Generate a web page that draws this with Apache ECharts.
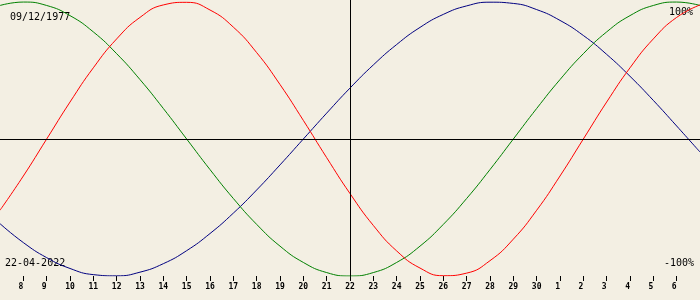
<!DOCTYPE html>
<html><head><meta charset="utf-8">
<script src="https://cdn.jsdelivr.net/npm/echarts@6/dist/echarts.min.js"></script>
<style>html,body{margin:0;padding:0;background:#F3EFE3}#c{width:700px;height:300px}</style>
</head><body><div id="c"></div>
<script>
// Day-of-month tick labels (7 Apr .. 7 May 2022)
const days = ["7","8","9","10","11","12","13","14","15","16","17","18","19","20","21","22","23","24","25","26","27","28","29","30","1","2","3","4","5","6","7"];
// Physical (red), %
const physical = [-52.0,-27.0,0,27.0,52.0,73.1,88.8,97.9,99.8,94.2,81.7,63.1,39.8,13.6,-13.6,-39.8,-63.1,-81.7,-94.2,-99.8,-97.9,-88.8,-73.1,-52.0,-27.0,0,27.0,52.0,73.1,88.8,97.9];
// Emotional (green), %
const emotional = [97.5,100,97.5,90.1,78.2,62.3,43.4,22.3,0,-22.3,-43.4,-62.3,-78.2,-90.1,-97.5,-100,-97.5,-90.1,-78.2,-62.3,-43.4,-22.3,0,22.3,43.4,62.3,78.2,90.1,97.5,100,97.5];
// Intellectual (blue), %
const intellectual = [-61.8,-75.6,-86.6,-94.5,-99.0,-99.9,-97.2,-91.0,-81.5,-69.0,-54.1,-37.2,-18.9,0,18.9,37.2,54.1,69.0,81.5,91.0,97.2,99.9,99.0,94.5,86.6,75.6,61.8,45.8,28.2,9.5,-9.5];
const birthDate = "09/12/1977";
const currentDate = "22-04-2022";
const currentIndex = 15;

const chart = echarts.init(document.getElementById('c'));
const lastIdx = days.length - 1;
const mono = '"DejaVu Sans Mono", monospace';
function line(name, data, color, extra) {
  return Object.assign({
    name, type: 'line', data, symbol: 'none', smooth: 0.5, silent: true,
    lineStyle: { color, width: 1 }, z: 3
  }, extra || {});
}
chart.setOption({
  backgroundColor: '#F3EFE3',
  animation: false,
  grid: { left: 0, right: 0, top: 0, bottom: 24 },
  xAxis: {
    type: 'category', data: days, boundaryGap: false,
    axisLine: { show: false, onZero: false },
    axisTick: { show: true, length: 5, lineStyle: { color: '#000', width: 1 },
      interval: (i) => i > 0 && i < lastIdx },
    axisLabel: { color: '#000', fontFamily: mono, fontSize: 8, fontWeight: 'bold', margin: 7,
      interval: (i) => i > 0 && i < lastIdx,
      formatter: (v) => String(v).padEnd(2, ' ') },
    splitLine: { show: false }
  },
  yAxis: { type: 'value', min: -100, max: 101.5, show: false, splitLine: { show: false } },
  graphic: [
    { type: 'text', left: 10, top: 12, style: { text: birthDate, fill: '#000', font: '10px ' + mono } },
    { type: 'text', left: 5, top: 258, style: { text: currentDate, fill: '#000', font: '10px ' + mono } },
    { type: 'text', right: 7, top: 7, style: { text: '100%', fill: '#000', font: '10px ' + mono } },
    { type: 'text', right: 6, top: 258, style: { text: '-100%', fill: '#000', font: '10px ' + mono } }
  ],
  series: [
    line('Intellectual', intellectual, '#000080', {
      markLine: { silent: true, symbol: 'none', label: { show: false },
        lineStyle: { color: '#000', width: 1, type: 'solid' },
        data: [{ xAxis: currentIndex }, { yAxis: 0 }] }
    }),
    line('Emotional', emotional, '#008000'),
    line('Physical', physical, '#FF0000')
  ]
});
</script></body></html>
